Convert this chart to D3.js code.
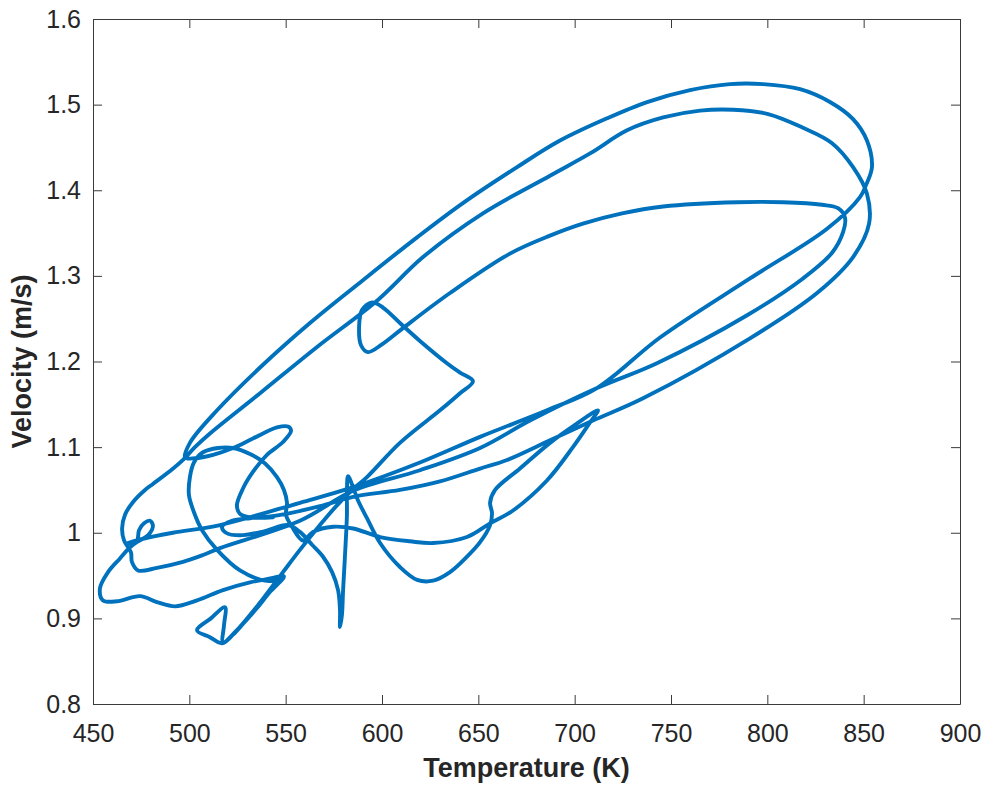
<!DOCTYPE html>
<html>
<head>
<meta charset="utf-8">
<script src="https://cdn.jsdelivr.net/npm/d3@7"></script>
<style>
  body { margin: 0; background: #fff; }
  svg { display: block; }
</style>
</head>
<body>
<div id="chart-area"></div>
<script>
// trajectory pieces, temperature (K) and velocity (m/s)
var leafT = [543.4, 531.5, 526.3, 524.7, 527.9, 533.0, 540.3, 548.6, 552.8, 551.2, 545.5, 533.0, 522.7, 512.3, 502.9, 497.8];
var leafV = [1.018, 1.018, 1.022, 1.032, 1.052, 1.071, 1.091, 1.106, 1.119, 1.124, 1.123, 1.110, 1.099, 1.091, 1.087, 1.088];

var outerT = [500.3, 514.4, 536.7, 562.6, 590.1, 618.2, 642.0, 670.1, 692.4, 716.8, 737.6, 759.9, 780.6, 797.8, 817.0, 832.5, 844.5, 851.7, 854.3, 851.2, 848.1, 831.0, 791.0, 744.3, 711.6, 685.6, 650.9, 619.7, 583.4];
var outerV = [1.105, 1.143, 1.193, 1.245, 1.295, 1.345, 1.385, 1.427, 1.458, 1.484, 1.503, 1.517, 1.524, 1.524, 1.518, 1.503, 1.483, 1.458, 1.427, 1.406, 1.392, 1.355, 1.297, 1.228, 1.169, 1.143, 1.112, 1.082, 1.052];

var upperT = [557.4, 515.9, 491.5, 476.0, 468.2, 472.8, 473.9, 476.5, 479.6, 481.1, 478.5, 473.4, 469.2];
var upperV = [1.035, 1.009, 1.000, 0.993, 0.988, 0.991, 1.003, 1.011, 1.014, 1.008, 0.997, 0.990, 0.983];

var lobeT = [464.0, 457.8, 453.6, 455.2, 462.5, 474.4, 483.2, 492.6, 504.0, 517.5, 531.5, 540.8, 549.1];
var lobeV = [0.970, 0.954, 0.935, 0.921, 0.920, 0.926, 0.919, 0.914, 0.921, 0.933, 0.942, 0.946, 0.949];

var triT = [541.9, 535.1, 528.4, 522.7, 517.0, 510.7, 504.0, 511.2, 518.5, 518.0, 517.5, 524.2, 536.2, 548.6, 557.4, 567.8, 576.6, 585.0];
var triV = [0.931, 0.912, 0.895, 0.881, 0.871, 0.878, 0.886, 0.900, 0.913, 0.892, 0.872, 0.885, 0.917, 0.954, 0.980, 1.009, 1.032, 1.051];

var hookT = [592.2, 609.3, 630.1, 640.5, 647.2, 640.5, 633.7, 619.7, 609.3, 600.5, 594.8, 589.6, 588.1, 589.1, 592.7];
var hookV = [1.065, 1.105, 1.143, 1.163, 1.177, 1.187, 1.198, 1.224, 1.245, 1.263, 1.269, 1.260, 1.240, 1.219, 1.211];

var thirdT = [600.0, 610.9, 635.3, 666.4, 687.2, 704.3, 724.6, 745.9, 784.3, 808.1, 828.4, 836.7, 840.3, 839.3, 833.6, 818.5, 789.5, 742.7, 711.6];
var thirdV = [1.220, 1.239, 1.280, 1.326, 1.347, 1.361, 1.373, 1.381, 1.386, 1.386, 1.383, 1.379, 1.368, 1.351, 1.327, 1.297, 1.254, 1.198, 1.169];

var lowerT = [676.8, 650.9, 619.7, 585.0, 557.4, 515.9, 507.1, 496.7, 483.2, 473.4, 470.2, 469.7];
var lowerV = [1.131, 1.099, 1.073, 1.049, 1.014, 0.982, 0.974, 0.966, 0.959, 0.956, 0.966, 0.977];

var edgeT = [466.1, 465.1, 466.6, 470.8, 477.0, 481.1, 490.0, 496.7];
var edgeV = [0.991, 1.005, 1.021, 1.036, 1.050, 1.057, 1.072, 1.085];

var secondT = [502.9, 510.7, 536.7, 566.3, 597.4, 621.3, 652.4, 687.2, 708.0, 727.2, 745.9, 765.1, 782.2, 800.4, 818.5, 833.6, 844.5, 851.7, 852.8, 844.5, 825.8, 791.0, 735.5, 709.5, 687.2, 664.9, 650.9, 630.1, 609.3, 585.0];
var secondV = [1.100, 1.116, 1.163, 1.217, 1.271, 1.322, 1.373, 1.417, 1.443, 1.470, 1.485, 1.493, 1.494, 1.489, 1.473, 1.455, 1.427, 1.396, 1.361, 1.322, 1.280, 1.227, 1.157, 1.131, 1.108, 1.085, 1.075, 1.060, 1.050, 1.042];

var ellipseT = [567.8, 552.3, 541.9, 531.5, 522.1, 517.0, 519.0, 526.3, 539.3, 551.2];
var ellipseV = [1.031, 1.023, 1.019, 1.017, 1.014, 1.007, 1.000, 0.997, 1.002, 1.009];

var dropT = [557.4, 563.7, 569.4, 574.1, 577.2, 578.2, 578.2, 579.2, 579.8, 580.8, 581.8, 581.8, 582.4];
var dropV = [1.001, 0.986, 0.972, 0.954, 0.933, 0.910, 0.890, 0.904, 0.933, 0.974, 1.021, 1.050, 1.066];

var spikeT = [585.0, 587.5, 592.2, 599.0, 609.3, 618.2, 626.5, 635.3, 644.1, 650.9, 656.1, 657.1, 656.1, 658.7, 671.6, 687.2, 700.2, 712.1];
var spikeV = [1.053, 1.038, 1.017, 0.988, 0.960, 0.945, 0.944, 0.954, 0.972, 0.989, 1.009, 1.023, 1.035, 1.050, 1.075, 1.105, 1.126, 1.143];

var backT = [708.0, 699.1, 685.6, 668.0, 656.1, 644.1, 626.5, 614.5, 599.0, 585.0, 574.6, 564.2, 559.0];
var backV = [1.129, 1.100, 1.061, 1.026, 1.011, 0.995, 0.988, 0.990, 0.995, 1.005, 1.007, 1.001, 0.991];

var circleT = [553.3, 550.2, 550.7, 549.1, 545.5, 539.3, 531.5, 522.7, 514.9, 507.1, 502.4, 500.3, 499.8, 502.4, 506.6, 514.4, 526.3, 539.3, 547.1];
var circleV = [1.007, 1.021, 1.035, 1.050, 1.065, 1.081, 1.092, 1.099, 1.099, 1.094, 1.082, 1.065, 1.044, 1.024, 1.003, 0.980, 0.956, 0.944, 0.945];

var xTicks = [450, 500, 550, 600, 650, 700, 750, 800, 850, 900];
var yTicks = [0.8, 0.9, 1.0, 1.1, 1.2, 1.3, 1.4, 1.5, 1.6];
var yTickLabels = ["0.8", "0.9", "1", "1.1", "1.2", "1.3", "1.4", "1.5", "1.6"];

// join the pieces into one trajectory
var pieces = [
    [leafT, leafV], [outerT, outerV], [upperT, upperV], [lobeT, lobeV],
    [triT, triV], [hookT, hookV], [thirdT, thirdV], [lowerT, lowerV],
    [edgeT, edgeV], [secondT, secondV], [ellipseT, ellipseV], [dropT, dropV],
    [spikeT, spikeV], [backT, backV], [circleT, circleV]
];
var data = [];
pieces.forEach(function (p) {
    p[0].forEach(function (t, i) {
        data.push({ temp: t, vel: p[1][i] });
    });
});

var margin = { left: 93, right: 26, top: 19, bottom: 81 };
var width = 986 - margin.left - margin.right;
var height = 785 - margin.top - margin.bottom;

var svg = d3.select("#chart-area")
    .append("svg")
    .attr("width", 986)
    .attr("height", 785);

svg.append("rect")
    .attr("width", 986)
    .attr("height", 785)
    .attr("fill", "#ffffff");

var g = svg.append("g")
    .attr("transform", "translate(" + margin.left + "," + margin.top + ")");

var x = d3.scaleLinear()
    .domain([450, 900])
    .range([0, width]);

var y = d3.scaleLinear()
    .domain([0.8, 1.6])
    .range([height, 0]);

var axisColor = "#262626";
var font = "'Liberation Sans', Arial, Helvetica, sans-serif";

// curve
var line = d3.line()
    .x(function (d) { return x(d.temp); })
    .y(function (d) { return y(d.vel); })
    .curve(d3.curveCatmullRom.alpha(0.5));

g.append("path")
    .datum(data)
    .attr("fill", "none")
    .attr("stroke", "#0072BD")
    .attr("stroke-width", 3.9)
    .attr("stroke-linejoin", "round")
    .attr("stroke-linecap", "round")
    .attr("d", line);

// axes, ticks pointing inwards on all four sides
var xAxisCall = d3.axisBottom(x)
    .tickValues(xTicks)
    .tickSizeInner(-9)
    .tickSizeOuter(0)
    .tickPadding(20)
    .tickFormat(d3.format("d"));
var xAxis = g.append("g")
    .attr("transform", "translate(0," + height + ")")
    .call(xAxisCall);

var yAxisCall = d3.axisLeft(y)
    .tickValues(yTicks)
    .tickSizeInner(-9)
    .tickSizeOuter(0)
    .tickPadding(12)
    .tickFormat(function (d, i) { return yTickLabels[i]; });
var yAxis = g.append("g")
    .call(yAxisCall);

var topAxis = g.append("g")
    .call(d3.axisTop(x).tickValues(xTicks).tickSizeInner(-9).tickSizeOuter(0).tickFormat(""));

var rightAxis = g.append("g")
    .attr("transform", "translate(" + width + ",0)")
    .call(d3.axisRight(y).tickValues(yTicks).tickSizeInner(-9).tickSizeOuter(0).tickFormat(""));

[xAxis, yAxis, topAxis, rightAxis].forEach(function (a) {
    a.selectAll("path, line")
        .attr("stroke", "#3a3a3a")
        .attr("stroke-width", 1);
    a.selectAll("text")
        .attr("fill", axisColor)
        .attr("font-family", font)
        .attr("font-size", "25px");
});

// labels
svg.append("text")
    .attr("x", margin.left + width / 2)
    .attr("y", 777)
    .attr("text-anchor", "middle")
    .attr("font-family", font)
    .attr("font-size", "27px")
    .attr("font-weight", "bold")
    .attr("fill", axisColor)
    .text("Temperature (K)");

svg.append("text")
    .attr("transform", "translate(31," + (margin.top + height / 2) + ") rotate(-90)")
    .attr("text-anchor", "middle")
    .attr("font-family", font)
    .attr("font-size", "27px")
    .attr("font-weight", "bold")
    .attr("fill", axisColor)
    .text("Velocity (m/s)");
</script>
</body>
</html>
